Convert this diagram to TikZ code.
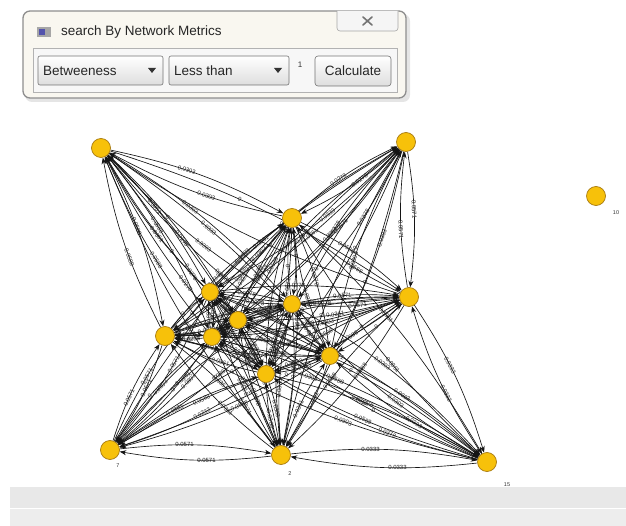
\documentclass[tikz,border=0pt]{standalone}
\usepackage{fontspec}
\setmainfont{Liberation Sans}
\usetikzlibrary{arrows.meta}
\pgfdeclarelayer{bg}
\pgfsetlayers{bg,main}
\definecolor{nodey}{HTML}{F7C10A}
\definecolor{nodeo}{HTML}{A77A10}
\definecolor{wincream}{HTML}{F9F7F0}
\definecolor{winframe}{HTML}{8E8E8E}
% edge weights, picked by index
\newcommand\wval[1]{\ifcase#1 0.0303\or 0.0571\or 0.0333\or 0\or 0.0361\or 0.0278\or 0.0588\else 0.0303\fi}
\begin{document}
\begin{tikzpicture}[x=1pt,y=-1pt,
  vx/.style={circle, fill=nodey, draw=nodeo, line width=0.7pt, minimum size=19pt, inner sep=0pt},
  vs/.style={vx, minimum size=17pt},
  link/.style={draw=black!92, line width=0.65pt, -{Stealth[length=6.5pt,width=5pt]}},
  wlab/.style={font=\fontsize{6}{6.5}\selectfont, sloped, inner sep=0.4pt, text=black!85},
  idlab/.style={font=\fontsize{5.5}{6}\selectfont, text=black!80, inner sep=0pt},
  combo/.style={draw=black!55, rounded corners=2pt, top color=white, bottom color=black!13, line width=0.6pt},
  wintext/.style={font=\fontsize{13.5}{15}\selectfont, text=black!85, inner sep=0pt},
]
\useasboundingbox (0,0) rectangle (626,526);

% ---- search dialog ----
\fill[black!10, rounded corners=7pt] (25,14) rectangle (410,102);
\draw[fill=wincream, draw=winframe, line width=1.3pt, rounded corners=7pt] (23,11) rectangle (406,98);
\draw[fill=white!96!black, draw=black!35, line width=0.6pt, rounded corners=3pt]
  (337,11) -- (337,31) -- (398,31) -- (398,11);
\draw[black!55, line width=1.6pt, line cap=round] (363,17) -- (372,25) (363,25) -- (372,17);
\fill[black!35] (37,27) rectangle (51,37);
\fill[blue!35!gray] (39,29) rectangle (45,35);
\node[wintext, anchor=west] (title) at (61,32) {search By Network Metrics};
\draw[fill=black!3, draw=black!30, line width=0.6pt] (33,48) rectangle (397,92);
\draw[combo] (38,56) rectangle (163,85);
\node[wintext, anchor=west] (metric) at (43,71) {Betweeness};
\fill[black!80] (148,68) -- (156,68) -- (152,73) -- cycle;
\draw[combo] (169,56) rectangle (289,85);
\node[wintext, anchor=west] (relation) at (174,71) {Less than};
\fill[black!80] (274,68) -- (282,68) -- (278,73) -- cycle;
\node[idlab, font=\fontsize{8}{9}\selectfont] (thr) at (300,65) {1};
\draw[combo, rounded corners=3pt] (315,56) rectangle (391,86);
\node[wintext] (calc) at (353,71) {Calculate};

% ---- status strip at the bottom ----
\fill[black!9] (10,487) rectangle (626,508);
\fill[black!7] (10,509) rectangle (626,526);

% ---- network nodes ----
\node[vx] (A) at (101,148) {};
\node[vx] (B) at (406,142) {};
\node[vx] (C) at (292,218) {};
\node[vx] (D) at (596,196) {};
\node[vx] (E) at (409,297) {};
\node[vx] (F) at (165,336) {};
\node[vx] (G) at (110,450) {};
\node[vx] (H) at (281,455) {};
\node[vx] (I) at (487,462) {};
\node[vs] (J) at (210,292) {};
\node[vs] (K) at (292,304) {};
\node[vs] (L) at (238,320) {};
\node[vs] (M) at (212,337) {};
\node[vs] (N) at (330,356) {};
\node[vs] (O) at (266,374) {};

\node[idlab] (d10) at (616,213) {10};
\node[idlab] (g7) at (118,466) {7};
\node[idlab] (h2) at (290,474) {2};
\node[idlab] (i15) at (507,485) {15};

% ---- directed weighted links, one each way per pair ----
\pgfkeyssetvalue{/wv/GH}{0.0571}
\pgfkeyssetvalue{/wv/HI}{0.0333}
% pairs with no link
\pgfkeyssetvalue{/nolink/AB}{}
\pgfkeyssetvalue{/nolink/AG}{}
\pgfkeyssetvalue{/nolink/AI}{}
\pgfkeyssetvalue{/nolink/BG}{}
\pgfkeyssetvalue{/nolink/BI}{}
\pgfkeyssetvalue{/nolink/GI}{}
\begin{pgfonlayer}{bg}
\foreach \a [count=\i] in {A,B,C,E,F,G,H,I,J,K,L,M,N,O} {
  \foreach \b [count=\j] in {A,B,C,E,F,G,H,I,J,K,L,M,N,O} {
    \ifnum\j>\i
      \pgfkeysifdefined{/nolink/\a\b}{}{%
        \pgfmathtruncatemacro\k{mod(\i*5+\j*3,7)}%
        \pgfkeysifdefined{/wv/\a\b}{\pgfkeysgetvalue{/wv/\a\b}\lab}{\edef\lab{\wval{\k}}}%
        \draw[link] (\a) to[bend left=8] node[wlab,pos=.42]{\lab} (\b);
        \draw[link] (\b) to[bend left=8] node[wlab,pos=.42]{\lab} (\a);
      }
    \fi
  }
}
\end{pgfonlayer}
\end{tikzpicture}
\end{document}
